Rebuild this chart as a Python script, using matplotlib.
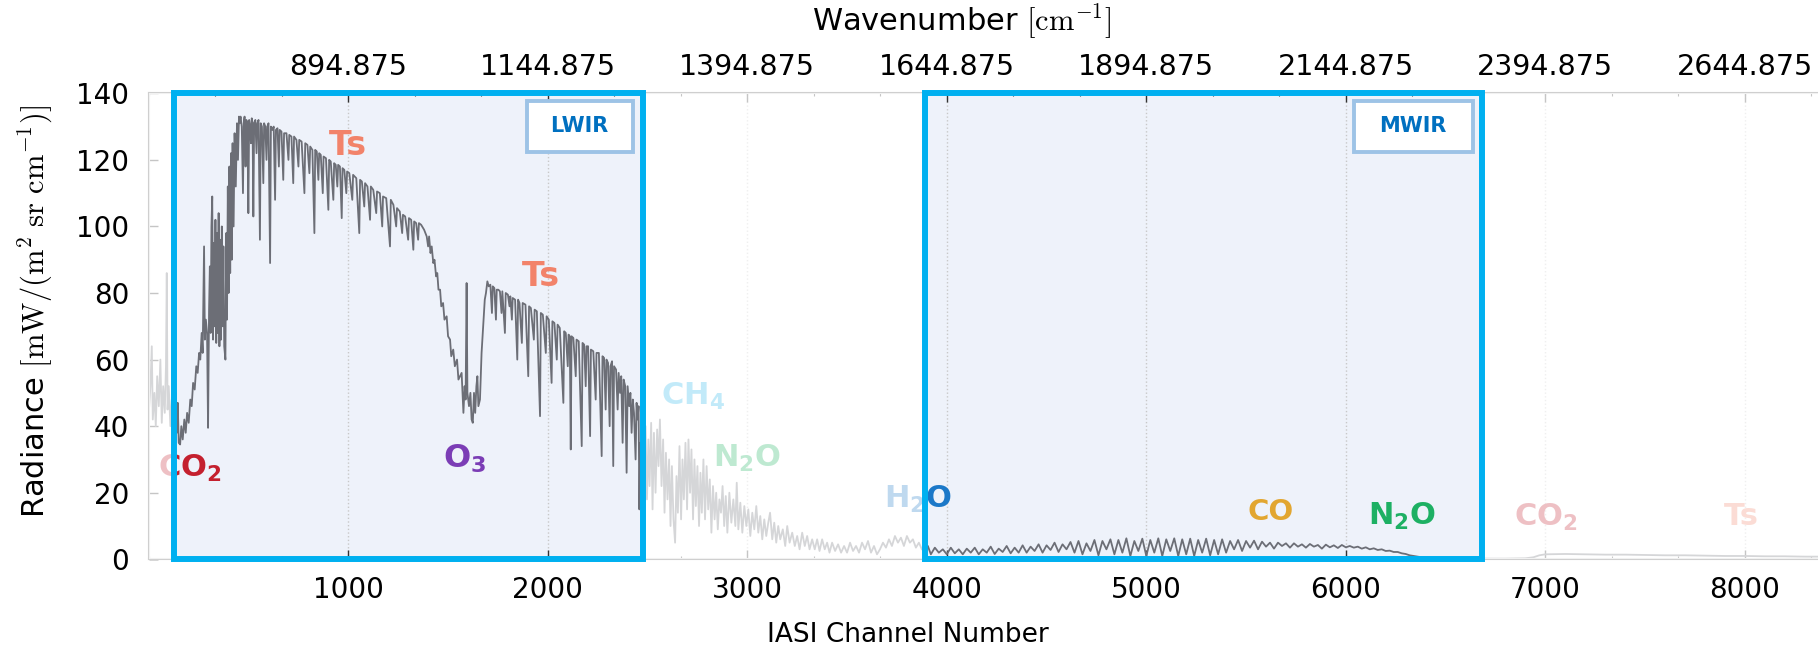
import numpy as np
import matplotlib.pyplot as plt
from matplotlib.patches import Rectangle
from matplotlib.ticker import AutoMinorLocator

# IASI radiance spectrum: (channel, radiance) per segment
edge_left = [(1, 45), (8, 52), (15, 64), (20, 42), (28, 50), (35, 40), (42, 55), (50, 46), (58, 60),
             (65, 41), (72, 52), (80, 44), (86, 58), (90, 86), (94, 45), (100, 52), (108, 40),
             (115, 48), (122, 38), (128, 50)]

co2_band = [(132, 36), (136, 50), (140, 38), (145, 47), (150, 35), (157, 34.5), (163, 40), (170, 36),
            (178, 42), (185, 38), (192, 44), (200, 41), (208, 48), (215, 46), (222, 53), (230, 51),
            (238, 58), (245, 56), (252, 62), (258, 60), (265, 68), (270, 62), (277, 94), (281, 66),
            (286, 72), (292, 68), (297, 39.5), (302, 75), (306, 88), (310, 68), (314, 100), (318, 109),
            (322, 66), (326, 95), (330, 70), (334, 102), (338, 65), (342, 98), (346, 68), (350, 104),
            (354, 64), (358, 96), (362, 66), (366, 100), (370, 70), (374, 94), (378, 64), (384, 60),
            (388, 98), (392, 72), (396, 112), (400, 80), (404, 118), (408, 86), (412, 122), (416, 90),
            (420, 125), (425, 100), (430, 128), (436, 112), (442, 131), (447, 120), (452, 133)]

window_1 = [(455, 131), (460, 133), (466, 130), (472, 110), (476, 131), (480, 133), (485, 118), (489, 132),
            (494, 131), (499, 104), (503, 132), (508, 130), (512, 125), (516, 132.5), (520, 131),
            (524, 103), (528, 131), (534, 132), (540, 122), (544, 131), (550, 132), (557, 96), (561, 131),
            (567, 130), (574, 113), (578, 131), (584, 130), (590, 120), (594, 130), (600, 131), (608, 89),
            (612, 130), (620, 129), (626, 130), (633, 108), (637, 129), (645, 129.5), (652, 118),
            (656, 129), (665, 128.5), (674, 114), (678, 128), (690, 128), (700, 120), (704, 127.5),
            (715, 127), (724, 113), (728, 127), (740, 126), (750, 118), (754, 126), (766, 125.5),
            (780, 110), (784, 125), (795, 124.5), (805, 116), (809, 124), (820, 123), (830, 98), (834, 123),
            (842, 122.5), (850, 114), (854, 122), (862, 121.5), (872, 110), (876, 121), (888, 120.5),
            (900, 105), (904, 120), (912, 119.5), (925, 108), (929, 119), (937, 118.5), (945, 112),
            (949, 118.5), (958, 118), (967, 102.5), (971, 117.5), (980, 117), (990, 110), (994, 116.5),
            (1005, 116), (1020, 108), (1024, 115.5), (1040, 114.5), (1055, 98), (1059, 114), (1068, 113.5),
            (1080, 106), (1084, 113), (1096, 112), (1109, 102), (1113, 112), (1125, 111), (1140, 104),
            (1144, 110.5), (1158, 110), (1170, 100), (1174, 109), (1190, 108.5), (1209, 94), (1213, 108),
            (1226, 106.5), (1240, 100), (1244, 105.5), (1258, 104.5), (1270, 98), (1274, 103.5),
            (1285, 103), (1300, 96), (1304, 102.5), (1315, 102), (1326, 93), (1330, 101.5), (1340, 101),
            (1350, 96), (1354, 101), (1365, 100.5), (1380, 99), (1393, 97)]

o3_band = [(1400, 94), (1405, 97), (1412, 92), (1418, 94), (1426, 89), (1432, 90), (1440, 85), (1446, 86),
           (1452, 81), (1460, 81), (1466, 76), (1475, 77), (1482, 72), (1493, 73), (1500, 67), (1510, 66),
           (1516, 61), (1526, 63), (1534, 58), (1545, 60), (1552, 54), (1560, 55), (1568, 56), (1577, 44),
           (1583, 52), (1588, 48), (1593, 83), (1597, 50), (1605, 46), (1612, 50), (1618, 42), (1624, 41),
           (1630, 50), (1636, 44), (1642, 52), (1647, 55), (1652, 46), (1660, 48), (1668, 62), (1676, 70),
           (1684, 78), (1690, 80), (1697, 83.5), (1704, 82)]

window_2 = [(1712, 82.5), (1720, 74), (1724, 82), (1732, 81.5), (1740, 72), (1744, 81), (1752, 81),
            (1760, 80.5), (1768, 74), (1772, 80.5), (1785, 68), (1789, 80), (1800, 79.5), (1808, 76),
            (1812, 79), (1820, 72), (1824, 78.5), (1836, 78), (1847, 60), (1851, 78), (1858, 77), (1870, 65),
            (1874, 77), (1888, 76.5), (1902, 55), (1906, 76), (1915, 75.5), (1930, 66), (1934, 75),
            (1945, 74.5), (1961, 43), (1965, 74), (1975, 73.5), (1990, 62), (1994, 73), (2005, 72),
            (2019, 53), (2023, 71.5), (2033, 71), (2045, 60), (2049, 70.5), (2060, 69.5), (2078, 47),
            (2082, 68.5), (2090, 68), (2100, 58), (2104, 67.5), (2110, 67), (2115, 33), (2119, 67),
            (2128, 66.5), (2140, 55), (2144, 66), (2155, 65.5), (2170, 34), (2174, 65), (2182, 64.5),
            (2190, 52), (2194, 64), (2202, 64), (2212, 37), (2216, 63), (2228, 62.5), (2240, 48), (2244, 62),
            (2256, 62), (2270, 31), (2274, 61), (2282, 60.5), (2290, 45), (2294, 60), (2302, 59), (2310, 40),
            (2314, 58), (2322, 59.5), (2328, 28), (2332, 58), (2342, 57), (2350, 45), (2355, 56), (2362, 50),
            (2368, 55), (2375, 35), (2380, 54), (2388, 52), (2395, 26), (2400, 52), (2408, 46), (2414, 50),
            (2420, 38), (2426, 48), (2432, 44), (2440, 30), (2445, 47), (2450, 42), (2455, 46), (2459, 15)]

gap_band = [(2463, 35), (2468, 20), (2475, 38), (2482, 25), (2490, 40), (2497, 18), (2504, 36), (2510, 22),
            (2518, 41), (2525, 15), (2532, 38), (2540, 20), (2548, 39), (2555, 28), (2562, 42), (2570, 22),
            (2578, 36), (2585, 14), (2592, 32), (2600, 18), (2608, 30), (2615, 10), (2622, 28), (2630, 12),
            (2638, 5), (2645, 25), (2652, 14), (2660, 34), (2668, 12), (2675, 30), (2682, 18), (2690, 35),
            (2698, 15), (2705, 36), (2713, 20), (2720, 33), (2728, 12), (2735, 30), (2742, 16), (2750, 28),
            (2758, 10), (2765, 26), (2772, 14), (2780, 30), (2788, 12), (2796, 28), (2804, 15), (2812, 24),
            (2820, 8), (2828, 22), (2836, 12), (2844, 20), (2852, 9), (2860, 18), (2868, 14), (2876, 22),
            (2884, 10), (2892, 19), (2900, 8), (2910, 20), (2920, 11), (2930, 18), (2940, 10), (2947, 23),
            (2955, 9), (2965, 17), (2975, 8), (2985, 16), (2995, 10), (3005, 15), (3015, 7), (3025, 14),
            (3035, 9), (3045, 16), (3055, 8), (3065, 13), (3075, 6), (3085, 12), (3095, 7), (3105, 11),
            (3114, 14), (3125, 6), (3135, 11), (3145, 5), (3155, 10), (3165, 6), (3178, 9), (3190, 4),
            (3200, 10), (3212, 5), (3225, 8), (3238, 4), (3250, 7), (3262, 3), (3275, 8), (3288, 4),
            (3300, 7), (3312, 3), (3325, 6), (3338, 3), (3350, 6), (3362, 2.5), (3375, 6), (3388, 3),
            (3400, 5), (3412, 2), (3425, 5), (3440, 2.5), (3455, 4.5), (3470, 2), (3485, 4), (3500, 2),
            (3515, 5), (3530, 2.5), (3545, 4), (3560, 2), (3575, 5), (3590, 3), (3605, 5.5), (3620, 2),
            (3635, 4), (3650, 1.5), (3665, 3), (3680, 5), (3695, 3.5), (3710, 6), (3725, 4), (3740, 7),
            (3755, 5), (3770, 6.5), (3785, 4), (3800, 7), (3815, 5), (3830, 6), (3845, 3.5), (3860, 5),
            (3875, 3)]

mwir_band = [(3890, 2.5), (3905, 4), (3920, 1.5), (3940, 3.5), (3960, 2), (3980, 3), (4000, 1.5), (4020, 3.5),
             (4040, 1.8), (4060, 3), (4080, 1.5), (4100, 3.2), (4120, 2), (4140, 3.5), (4160, 1.5), (4180, 3),
             (4200, 2), (4220, 3.8), (4240, 1.6), (4260, 3.2), (4280, 2.2), (4300, 4), (4320, 1.8),
             (4340, 3.5), (4360, 2), (4380, 4.2), (4400, 2), (4420, 3.8), (4440, 2.5), (4460, 4.5), (4480, 2),
             (4500, 4.2), (4520, 2.8), (4540, 5), (4560, 2.2), (4580, 4.5), (4600, 3), (4620, 5.2), (4640, 2),
             (4660, 5.5), (4680, 1.5), (4700, 4.8), (4720, 2.5), (4740, 5.8), (4760, 1.2), (4780, 5.5),
             (4800, 3), (4820, 6), (4840, 1.5), (4860, 5.8), (4880, 2), (4900, 6.3), (4920, 1), (4940, 5.5),
             (4960, 2.5), (4980, 6.2), (5000, 1), (5020, 5.8), (5040, 2), (5060, 6.3), (5080, 1), (5100, 6),
             (5120, 2.5), (5140, 6.3), (5160, 1), (5180, 6), (5200, 1.5), (5220, 6.2), (5240, 1), (5260, 5.8),
             (5280, 2), (5300, 6.2), (5320, 1.2), (5340, 5.8), (5360, 1.5), (5380, 6), (5400, 2), (5420, 5.5),
             (5440, 3), (5460, 5.8), (5480, 2.5), (5500, 5.5), (5520, 3.5), (5540, 5.6), (5560, 3),
             (5580, 5.3), (5600, 3.8), (5620, 5), (5640, 3.2), (5660, 5), (5680, 4), (5700, 4.8), (5720, 3.5),
             (5740, 4.8), (5760, 3.8), (5780, 4.5), (5800, 3.5), (5820, 4.6), (5840, 3.8), (5860, 4.3),
             (5880, 3.2), (5900, 4.4), (5920, 3.6), (5940, 4.2), (5960, 3.4), (5980, 4.3), (6000, 3.6),
             (6020, 4), (6040, 3.5), (6060, 3.8), (6080, 3.2), (6100, 3.6), (6120, 3), (6140, 3.3),
             (6160, 2.8), (6180, 3), (6200, 2.5), (6220, 2.6), (6240, 2.2), (6260, 2.2), (6280, 1.8),
             (6300, 1.6), (6320, 1.2), (6340, 1), (6360, 0.8), (6380, 0.6), (6400, 0.5), (6430, 0.4),
             (6460, 0.3), (6500, 0.3), (6550, 0.2), (6600, 0.2), (6650, 0.2)]

edge_right = [(6700, 0.2), (6800, 0.2), (6900, 0.3), (6940, 0.6), (6970, 1.2), (7000, 1.5), (7100, 1.6),
              (7200, 1.5), (7300, 1.4), (7400, 1.4), (7500, 1.3), (7600, 1.2), (7700, 1.2), (7800, 1.1),
              (7900, 1.0), (8000, 1.0), (8100, 0.9), (8200, 0.9), (8300, 0.8), (8400, 0.8), (8461, 0.7)]

segments = [edge_left, co2_band, window_1, o3_band, window_2, gap_band, mwir_band, edge_right]
channel = np.array([p[0] for s in segments for p in s])
radiance = np.array([p[1] for s in segments for p in s])

# bands highlighted (channel ranges)
bands = {'LWIR': (128, 2479), 'MWIR': (3889, 6684)}
n_channels = 8461

top_ticks = [1000, 2000, 3000, 4000, 5000, 6000, 7000, 8000]
top_labels = ['894.875', '1144.875', '1394.875', '1644.875', '1894.875', '2144.875', '2394.875', '2644.875']

# species labels: text, channel, radiance (baseline), colour, size
species = [
    ('Ts', 996, 121.5, '#F2836A', 24),
    ('Ts', 1966, 82, '#F2836A', 24),
    ('CO$_\\mathbf{2}$', 207, 24.7, '#C4202E', 22),
    ('O$_\\mathbf{3}$', 1583, 27.4, '#7B3DB5', 23),
    ('CH$_\\mathbf{4}$', 2727, 46.3, '#28B7ED', 22),
    ('N$_\\mathbf{2}$O', 2999, 27.7, '#18B45E', 22),
    ('H$_\\mathbf{2}$O', 3853, 15.4, '#1B78C8', 22),
    ('CO', 5622, 11.8, '#E2A630', 21),
    ('N$_\\mathbf{2}$O', 6282, 10.3, '#1DB063', 22),
    ('CO$_\\mathbf{2}$', 7001, 10.0, '#C4202E', 22),
    ('Ts', 7981, 10.3, '#F2836A', 22),
]

fig = plt.figure(figsize=(18.18, 6.54), dpi=100)
ax = fig.add_axes([0.08185, 0.1448, 0.92849, 0.71254])

ax.plot(channel, radiance, color='#6C6E76', lw=1.3, zorder=2)

ax.set_xlim(0, n_channels)
ax.set_ylim(0, 140)
ax.set_xticks(top_ticks)
ax.set_yticks(range(0, 141, 20))
ax.xaxis.set_minor_locator(AutoMinorLocator(3))
ax.tick_params(axis='both', which='major', direction='in', length=6.5, width=1, color='#333333',
               top=True, labelsize=20)
ax.tick_params(axis='x', which='minor', direction='in', length=2.5, width=0.8, color='#333333', top=True)
ax.tick_params(axis='x', pad=12)
ax.tick_params(axis='y', pad=14, labelsize=20)
ax.grid(axis='x', linestyle=':', color='#c8c8c8', lw=1)
for sp in ax.spines.values():
    sp.set_color('#cfcfcf')
    sp.set_linewidth(1.5)

secax = ax.secondary_xaxis('top')
secax.set_xticks(top_ticks)
secax.set_xticklabels(top_labels)
secax.tick_params(length=0, labelsize=20.5, pad=9)
secax.spines['top'].set_visible(False)

# species annotations
for txt, x, y, col, fs in species:
    ax.text(x, y, txt, color=col, fontsize=fs, fontweight='bold', ha='center', va='baseline',
            math_fontfamily='dejavusans', zorder=3)

# band backgrounds, faded areas and frames
for name, (x0, x1) in bands.items():
    ax.add_patch(Rectangle((x0, 0), x1 - x0, 140, facecolor='#EEF2FA', edgecolor='none', zorder=0.5))
    ax.add_patch(Rectangle((x0, 0), x1 - x0, 140, fill=False, edgecolor='#00B0F0', lw=4.3,
                           zorder=6, clip_on=False))

fade = [(0, bands['LWIR'][0]), (bands['LWIR'][1], bands['MWIR'][0]), (bands['MWIR'][1], n_channels)]
for x0, x1 in fade:
    ax.add_patch(Rectangle((x0, 0), x1 - x0, 140, facecolor='white', alpha=0.72, edgecolor='none', zorder=5))

# band name boxes
for name, bx, tx in [('LWIR', 1895, 2160), ('MWIR', 6040, 6336)]:
    ax.add_patch(Rectangle((bx, 122.5), 530 if name == 'LWIR' else 597, 15.3, facecolor='white',
                           edgecolor='#9DC3E6', lw=2.8, zorder=7))
    ax.text(tx, 130.3, name, color='#0070C0', fontsize=15, fontweight='bold', ha='center', va='center',
            zorder=8)

fig.text(908 / 1818, 1 - 635 / 654, 'IASI Channel Number', ha='center', va='center', fontsize=19)
fig.text(962 / 1818, 1 - 22 / 654, r'Wavenumber $[\mathrm{cm^{-1}}]$', ha='center', va='center',
         fontsize=22, math_fontfamily='cm')
fig.text(36 / 1818, 1 - 311 / 654, r'Radiance $[\mathrm{mW/(m^2\ sr\ cm^{-1})}]$', ha='center',
         va='center', rotation=90, fontsize=22, math_fontfamily='cm')

fig.savefig('out.png', dpi=100)
